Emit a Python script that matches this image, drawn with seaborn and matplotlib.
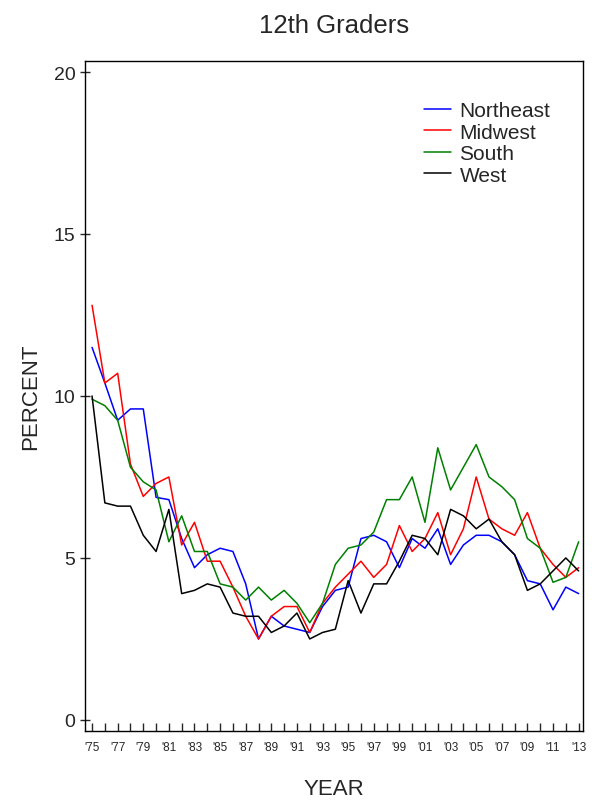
import matplotlib
matplotlib.use("Agg")
import matplotlib.pyplot as plt
import numpy as np
import pandas as pd
import seaborn as sns

# data, 1975-2013
years = list(range(1975, 2014))

northeast = [11.5, 10.4, 9.25, 9.6, 9.6, 6.87, 6.8, 5.6, 4.7, 5.1,
             5.3, 5.2, 4.2, 2.5, 3.2, 2.9, 2.8, 2.7, 3.5, 4.0,
             4.1, 5.6, 5.7, 5.5, 4.7, 5.6, 5.3, 5.9, 4.8, 5.4,
             5.7, 5.7, 5.5, 5.1, 4.3, 4.2, 3.4, 4.1, 3.9]
midwest = [12.8, 10.4, 10.7, 7.9, 6.9, 7.3, 7.5, 5.4, 6.1, 4.9,
           4.9, 4.1, 3.2, 2.5, 3.2, 3.5, 3.5, 2.7, 3.6, 4.1,
           4.5, 4.9, 4.4, 4.8, 6.0, 5.2, 5.6, 6.4, 5.1, 5.9,
           7.5, 6.2, 5.9, 5.7, 6.4, 5.3, 4.8, 4.4, 4.7]
south = [9.9, 9.7, 9.25, 7.8, 7.35, 7.1, 5.5, 6.3, 5.2, 5.2,
         4.2, 4.1, 3.7, 4.1, 3.7, 4.0, 3.6, 3.0, 3.6, 4.8,
         5.3, 5.4, 5.8, 6.8, 6.8, 7.5, 6.1, 8.4, 7.1, 7.8,
         8.5, 7.5, 7.2, 6.8, 5.6, 5.3, 4.25, 4.4, 5.5]
west = [10.0, 6.7, 6.6, 6.6, 5.7, 5.2, 6.5, 3.9, 4.0, 4.2,
        4.1, 3.3, 3.2, 3.2, 2.7, 2.9, 3.3, 2.5, 2.7, 2.8,
        4.3, 3.3, 4.2, 4.2, 4.9, 5.7, 5.6, 5.1, 6.5, 6.3,
        5.9, 6.2, 5.5, 5.1, 4.0, 4.2, 4.6, 5.0, 4.6]

regions = ["Northeast", "Midwest", "South", "West"]
colors = ["#0000ff", "#ff0000", "#008000", "#000000"]

df = pd.DataFrame({
    "year": years * 4,
    "percent": northeast + midwest + south + west,
    "region": sum([[r] * len(years) for r in regions], []),
})

sns.set_style("white")
plt.rcParams["font.family"] = ["Liberation Sans", "DejaVu Sans"]

fig = plt.figure(figsize=(5.92, 8.04), dpi=100)
ax = fig.add_axes([0.1436, 0.0896, 0.8414, 0.8333])

sns.lineplot(data=df, x="year", y="percent", hue="region",
             palette=dict(zip(regions, colors)), linewidth=1.1, ax=ax)

ax.set_xlim(1974.45, 2013.35)
ax.set_ylim(-0.34, 20.34)

ax.set_xticks(years)
ax.set_xticklabels(["'%02d" % (y % 100) if (y - 1975) % 2 == 0 else "" for y in years],
                   fontsize=8.5)
ax.set_yticks([0, 5, 10, 15, 20])
ax.set_yticklabels(["0", "5", "10", "15", "20"], fontsize=14)
ax.tick_params(axis="x", direction="in", length=6, width=1, pad=7, bottom=True)
ax.tick_params(axis="y", direction="inout", length=7, width=1, left=True)

for s in ax.spines.values():
    s.set_color("black")
    s.set_linewidth(1)

ax.set_xlabel("YEAR", fontsize=16, labelpad=18)
ax.set_ylabel("PERCENT", fontsize=16, labelpad=9)
ax.set_title("12th Graders", fontsize=18.5, pad=21)

leg = ax.legend(loc="upper left", bbox_to_anchor=(0.643, 0.968), frameon=False,
                fontsize=15, handlelength=1.3, handletextpad=0.4,
                labelspacing=0.12, title=None)
for line in leg.get_lines():
    line.set_linewidth(1.1)

fig.savefig("out.png", dpi=100)
